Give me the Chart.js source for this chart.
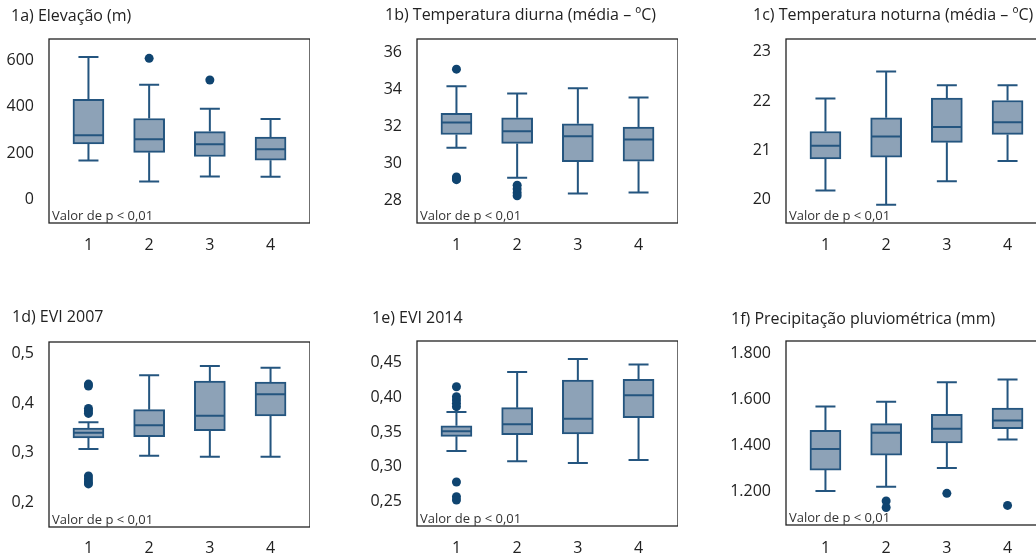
<!DOCTYPE html>
<html>
<head>
<meta charset="utf-8">
<script src="https://cdn.jsdelivr.net/npm/chart.js@4.4.0/dist/chart.umd.min.js"></script>
<style>
  html, body { margin: 0; padding: 0; background: #fff; overflow: hidden; width: 1036px; height: 554px; }
  .panel { position: absolute; }
</style>
</head>
<body>
<div class="panel" id="pa"><canvas id="ca"></canvas></div>
<div class="panel" id="pb"><canvas id="cb"></canvas></div>
<div class="panel" id="pc"><canvas id="cc"></canvas></div>
<div class="panel" id="pd"><canvas id="cd"></canvas></div>
<div class="panel" id="pe"><canvas id="ce"></canvas></div>
<div class="panel" id="pf"><canvas id="cf"></canvas></div>
<script>
const groups = [1, 2, 3, 4];
const pNote = "Valor de p < 0,01";

// 1a) Elevação (m)
const elevLow = [169, 79, 100, 99];
const elevQ1 = [240, 204, 186, 170];
const elevMed = [277, 260, 239, 217];
const elevQ3 = [431, 349, 293, 269];
const elevHigh = [613, 494, 391, 347];
const elevOut = [[], [607], [514], []];
const elevTicks = [0, 200, 400, 600];
const elevTickLabels = ["0", "200", "400", "600"];

// 1b) Temperatura diurna
const dayLow = [30.82, 29.2, 28.36, 28.41];
const dayQ1 = [31.54, 31.06, 30.07, 30.1];
const dayMed = [32.19, 31.72, 31.45, 31.27];
const dayQ3 = [32.69, 32.44, 32.12, 31.94];
const dayHigh = [34.15, 33.76, 34.04, 33.54];
const dayOut = [[35.07, 29.25, 29.15, 29.1], [28.8, 28.6, 28.4, 28.23], [], []];
const dayTicks = [28, 30, 32, 34, 36];
const dayTickLabels = ["28", "30", "32", "34", "36"];

// 1c) Temperatura noturna
const nightLow = [20.18, 19.89, 20.37, 20.78];
const nightQ1 = [20.82, 20.86, 21.16, 21.32];
const nightMed = [21.09, 21.28, 21.47, 21.57];
const nightQ3 = [21.38, 21.66, 22.06, 22.01];
const nightHigh = [22.05, 22.6, 22.32, 22.32];
const nightOut = [[], [], [], []];
const nightTicks = [20, 21, 22, 23];
const nightTickLabels = ["20", "21", "22", "23"];

// 1d) EVI 2007
const evi07Low = [0.3074, 0.294, 0.292, 0.292];
const evi07Q1 = [0.3295, 0.3322, 0.3443, 0.3738];
const evi07Med = [0.34, 0.355, 0.3745, 0.4174];
const evi07Q3 = [0.3497, 0.3866, 0.4443, 0.4423];
const evi07High = [0.361, 0.4557, 0.4745, 0.4711];
const evi07Out = [[0.438, 0.434, 0.389, 0.384, 0.379, 0.253, 0.247, 0.241, 0.237], [], [], []];
const evi07Ticks = [0.2, 0.3, 0.4, 0.5];
const evi07TickLabels = ["0,2", "0,3", "0,4", "0,5"];

// 1e) EVI 2014
const evi14Low = [0.3227, 0.3079, 0.3055, 0.3098];
const evi14Q1 = [0.3438, 0.3462, 0.3471, 0.3706];
const evi14Med = [0.351, 0.361, 0.3691, 0.4026];
const evi14Q3 = [0.359, 0.3849, 0.4246, 0.4256];
const evi14High = [0.3787, 0.4361, 0.4548, 0.4467];
const evi14Out = [[0.415, 0.4007, 0.3959, 0.3911, 0.3864, 0.2782, 0.2572, 0.2524], [], [], []];
const evi14Ticks = [0.25, 0.3, 0.35, 0.4, 0.45];
const evi14TickLabels = ["0,25", "0,30", "0,35", "0,40", "0,45"];

// 1f) Precipitação pluviométrica (mm)
const rainLow = [1203, 1222, 1303, 1426];
const rainQ1 = [1294, 1359, 1411, 1473];
const rainMed = [1385, 1456, 1473, 1509];
const rainQ3 = [1466, 1495, 1535, 1562];
const rainHigh = [1569, 1590, 1674, 1686];
const rainOut = [[], [1160, 1132], [1193], [1141]];
const rainTicks = [1200, 1400, 1600, 1800];
const rainTickLabels = ["1.200", "1.400", "1.600", "1.800"];

const FONT = "'Open Sans', 'Noto Sans', sans-serif";
const TEXT = "#222";
const BOX_FILL = "#8da2b7";
const BOX_LINE = "#24557f";
const DOT = "#0f4470";
const TICK_SIZE = 16;

// whiskers, medians, frame, panel title and p-value note
const boxExtras = {
  id: "boxExtras",
  afterDatasetsDraw(chart, args, opts) {
    const { ctx, chartArea: a, scales: { x, y } } = chart;
    ctx.save();
    ctx.strokeStyle = BOX_LINE;
    ctx.lineWidth = 2;
    groups.forEach((g, i) => {
      const cx = x.getPixelForValue(g);
      const yLow = y.getPixelForValue(opts.low[i]);
      const yHigh = y.getPixelForValue(opts.high[i]);
      const y1 = y.getPixelForValue(opts.q1[i]);
      const y3 = y.getPixelForValue(opts.q3[i]);
      const ym = y.getPixelForValue(opts.med[i]);
      ctx.beginPath();
      ctx.moveTo(cx, y3); ctx.lineTo(cx, yHigh);
      ctx.moveTo(cx, y1); ctx.lineTo(cx, yLow);
      ctx.moveTo(cx - 10, yHigh); ctx.lineTo(cx + 10, yHigh);
      ctx.moveTo(cx - 10, yLow); ctx.lineTo(cx + 10, yLow);
      ctx.moveTo(cx - 15, ym); ctx.lineTo(cx + 15, ym);
      ctx.stroke();
    });
    ctx.strokeStyle = "#222";
    ctx.lineWidth = 1.3;
    ctx.strokeRect(a.left, a.top, a.right - a.left, a.bottom - a.top);

    ctx.fillStyle = "#333";
    ctx.font = "13px " + FONT;
    ctx.textBaseline = "alphabetic";
    ctx.textAlign = "left";
    ctx.fillText(pNote, a.left + 3, a.bottom - 3);

    ctx.fillStyle = TEXT;
    ctx.font = "16px " + FONT;
    ctx.textBaseline = "middle";
    ctx.fillText(opts.title, opts.titleX, opts.titleY);
    ctx.restore();
  },
};

function boxChart(id, title, s, yMin, yMax, ticks, tickLabels, pos) {
  const wrap = document.getElementById("p" + id);
  const canvasW = pos.right - pos.colLeft;
  const canvasH = pos.bottom + 30 - pos.top;
  wrap.style.left = pos.colLeft + "px";
  wrap.style.top = pos.top + "px";
  wrap.style.width = canvasW + "px";
  wrap.style.height = canvasH + "px";

  s.title = title;
  s.titleX = pos.titleX - pos.colLeft;
  s.titleY = pos.titleY - pos.top;

  const outPts = [];
  s.out.forEach((vals, i) => vals.forEach((v) => outPts.push({ x: groups[i], y: v })));

  return new Chart(document.getElementById("c" + id), {
    type: "bar",
    data: {
      datasets: [
        {
          data: groups.map((g, i) => ({ x: g, y: [s.q1[i], s.q3[i]] })),
          backgroundColor: BOX_FILL,
          borderColor: BOX_LINE,
          borderWidth: 2,
          borderSkipped: false,
          barThickness: 31,
          grouped: false,
        },
        {
          type: "scatter",
          data: outPts,
          pointRadius: 4.5,
          pointBackgroundColor: DOT,
          pointBorderWidth: 0,
          showLine: false,
        },
      ],
    },
    options: {
      responsive: true,
      maintainAspectRatio: false,
      animation: false,
      layout: {
        autoPadding: false,
        padding: { left: 0, top: pos.chartTop - pos.top, right: 0, bottom: 0 },
      },
      plugins: {
        legend: { display: false },
        tooltip: { enabled: false },
        title: { display: false },
        boxExtras: s,
      },
      scales: {
        x: {
          type: "linear",
          min: 0.35,
          max: 4.65,
          offset: false,
          grid: { display: false, drawTicks: false },
          border: { display: false },
          afterBuildTicks: (sc) => { sc.ticks = groups.map((g) => ({ value: g })); },
          afterFit: (sc) => { sc.height = 30; },
          ticks: {
            color: TEXT,
            padding: pos.xPad,
            font: { family: FONT, size: TICK_SIZE, lineHeight: 1.2 },
            callback: (v) => String(v),
          },
        },
        y: {
          type: "linear",
          min: yMin,
          max: yMax,
          grid: { display: false, drawTicks: false },
          border: { display: false },
          afterBuildTicks: (sc) => { sc.ticks = ticks.map((v) => ({ value: v })); },
          afterFit: (sc) => { sc.width = pos.chartLeft - pos.colLeft; },
          ticks: {
            color: TEXT,
            padding: 15,
            font: { family: FONT, size: TICK_SIZE, lineHeight: 1.2 },
            callback: (v, i) => tickLabels[i],
          },
        },
      },
    },
    plugins: [boxExtras],
  });
}

function stats(low, q1, med, q3, high, out) {
  return { low, q1, med, q3, high, out };
}

boxChart("a", "1a) Elevação (m)",
  stats(elevLow, elevQ1, elevMed, elevQ3, elevHigh, elevOut),
  -99, 690, elevTicks, elevTickLabels,
  { colLeft: 0, titleX: 11, titleY: 16, top: 0, chartTop: 39, bottom: 223, chartLeft: 49, right: 310, xPad: 13 });

boxChart("b", "1b) Temperatura diurna (média – ºC)",
  stats(dayLow, dayQ1, dayMed, dayQ3, dayHigh, dayOut),
  26.76, 36.7, dayTicks, dayTickLabels,
  { colLeft: 345, titleX: 385, titleY: 15, top: 0, chartTop: 39, bottom: 223, chartLeft: 417, right: 678, xPad: 13 });

boxChart("c", "1c) Temperatura noturna (média – ºC)",
  stats(nightLow, nightQ1, nightMed, nightQ3, nightHigh, nightOut),
  19.52, 23.26, nightTicks, nightTickLabels,
  { colLeft: 690, titleX: 753, titleY: 15, top: 0, chartTop: 39, bottom: 223, chartLeft: 786, right: 1047, xPad: 13 });

boxChart("d", "1d) EVI 2007",
  stats(evi07Low, evi07Q1, evi07Med, evi07Q3, evi07High, evi07Out),
  0.1503, 0.5228, evi07Ticks, evi07TickLabels,
  { colLeft: 0, titleX: 12, titleY: 317, top: 290, chartTop: 342, bottom: 527, chartLeft: 49, right: 310, xPad: 12 });

boxChart("e", "1e) EVI 2014",
  stats(evi14Low, evi14Q1, evi14Med, evi14Q3, evi14High, evi14Out),
  0.2151, 0.4806, evi14Ticks, evi14TickLabels,
  { colLeft: 345, titleX: 372, titleY: 318, top: 290, chartTop: 341, bottom: 526, chartLeft: 417, right: 678, xPad: 13 });

boxChart("f", "1f) Precipitação pluviométrica (mm)",
  stats(rainLow, rainQ1, rainMed, rainQ3, rainHigh, rainOut),
  1056, 1853, rainTicks, rainTickLabels,
  { colLeft: 690, titleX: 731, titleY: 319, top: 290, chartTop: 341, bottom: 525, chartLeft: 786, right: 1047, xPad: 14 });
</script>
</body>
</html>
